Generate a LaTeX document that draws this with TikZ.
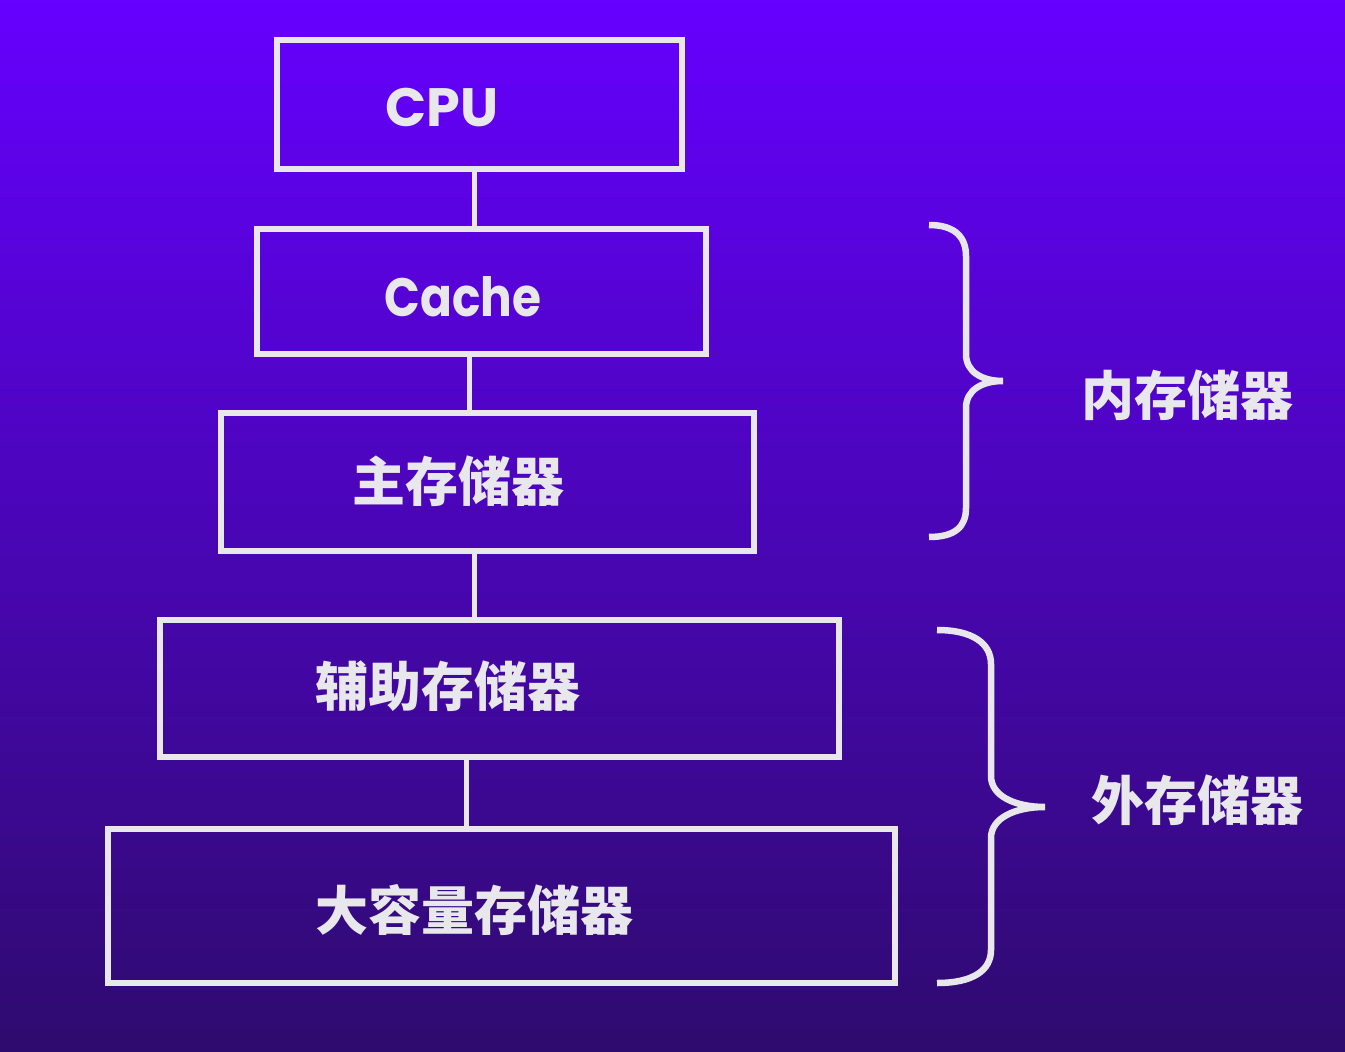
\documentclass[tikz,border=0pt]{standalone}
\usepackage{fontspec}
\setmainfont{Poppins}
\newfontfamily\cjk{Noto Sans CJK SC}
\definecolor{lineW}{HTML}{E8E8EC}
\definecolor{bgtop}{HTML}{6600FF}
\definecolor{bgmid}{HTML}{4D08C2}
\definecolor{bgbot}{HTML}{2E0B6E}
\begin{document}
\begin{tikzpicture}[x=1pt,y=-1pt,
  box/.style={draw=lineW,line width=5.5pt},
  conn/.style={draw=lineW,line width=5pt},
  brace/.style={draw=lineW,line width=6.5pt},
  lat/.style={text=lineW,font=\bfseries\fontsize{54}{60}\selectfont,inner sep=0pt},
  han/.style={text=lineW,font=\cjk\bfseries\fontsize{53}{60}\selectfont,inner sep=0pt}]
\shade[top color=bgtop,middle color=bgmid,bottom color=bgbot] (0,0) rectangle (1345,1052);
\useasboundingbox (0,0) rectangle (1345,1052);
% boxes
\path[box] (277,40) rectangle (682,169);
\path[box] (257,229) rectangle (706,354);
\path[box] (221,413) rectangle (754,551);
\path[box] (160,620) rectangle (839,757);
\path[box] (108,829) rectangle (895,983);
\coordinate (cpuB) at (474,172);
\coordinate (cacheT) at (474,226);
\coordinate (cacheB) at (469,357);
\coordinate (mainT) at (469,410);
\coordinate (mainB) at (474,554);
\coordinate (auxT) at (474,617);
\coordinate (auxB) at (466,760);
\coordinate (bigT) at (466,826);
\node[lat] (cpu) at (442,108) {CPU};
\node[lat] (cache) at (463,297) {\scalebox{0.87}[1]{Cache}};
\node[han] (main) at (458,481) {主存储器};
\node[han] (aux) at (448,686) {辅助存储器};
\node[han] (big) at (474,910) {大容量存储器};
\node[han] (inner) at (1187,395) {内存储器};
\node[han] (outer) at (1197,800) {外存储器};
\draw[conn] (cpuB) -- (cacheT);
\draw[conn] (cacheB) -- (mainT);
\draw[conn] (mainB) -- (auxT);
\draw[conn] (auxB) -- (bigT);
% braces
\draw[brace] (929,225) .. controls (956,225) and (966,238) .. (966,256)
  -- (966,354) .. controls (966,372) and (982,381) .. (1003,381)
  .. controls (982,381) and (966,390) .. (966,408)
  -- (966,508) .. controls (966,526) and (956,537) .. (929,537);
\draw[brace] (937,630) .. controls (972,630) and (991,643) .. (991,664)
  -- (991,776) .. controls (991,796) and (1015,807) .. (1045,807)
  .. controls (1015,807) and (991,818) .. (991,838)
  -- (991,950) .. controls (991,971) and (972,983) .. (937,983);
\end{tikzpicture}
\end{document}
